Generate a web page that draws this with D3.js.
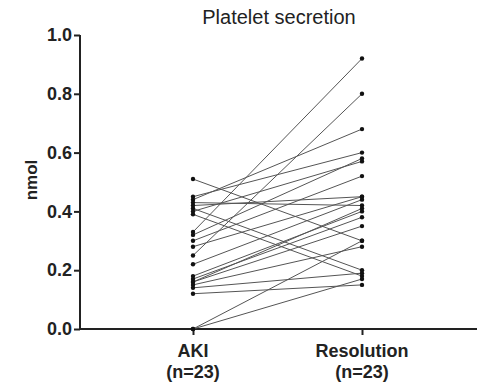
<!DOCTYPE html>
<html><head><meta charset="utf-8">
<script src="https://cdn.jsdelivr.net/npm/d3@7"></script>
<style>body{margin:0;background:#fff}svg{display:block}text{font-family:"Liberation Sans",Arial,sans-serif}</style>
</head><body>
<svg id="c" width="481" height="384"></svg>
<script>
const categories = ["AKI", "Resolution"];
const categorySub = ["(n=23)", "(n=23)"];
const akiValues = [0.51,0.45,0.44,0.43,0.41,0.40,0.39,0.33,0.32,0.30,0.28,0.25,0.22,0.18,0.17,0.16,0.16,0.15,0.14,0.12,0.0,0.0,0.42];
const resolutionValues = [0.30,0.60,0.68,0.42,0.20,0.57,0.18,0.92,0.58,0.52,0.45,0.80,0.44,0.40,0.38,0.35,0.41,0.28,0.19,0.15,0.30,0.17,0.45];
const yTicks = [0.0,0.2,0.4,0.6,0.8,1.0];
const title = "Platelet secretion";
const yLabel = "nmol";

const svg = d3.select("#c");
const y = d3.scaleLinear().domain([0,1]).range([329,35]);
const x = d3.scalePoint().domain(categories).range([193,362]);
const axisColor = "#222";

svg.append("text").attr("x",279).attr("y",24).attr("text-anchor","middle")
  .attr("font-size",20).attr("fill","#222").text(title);

// y axis
const ya = svg.append("g").attr("transform","translate(80,0)")
  .call(d3.axisLeft(y).tickValues(yTicks).tickFormat(d3.format(".1f")).tickSize(6).tickPadding(2));
ya.select(".domain").attr("stroke",axisColor).attr("stroke-width",2).attr("d","M0,"+y(1)+"V"+y(0));
ya.selectAll(".tick line").attr("stroke",axisColor).attr("stroke-width",2);
ya.selectAll(".tick text").attr("font-size",18).attr("font-weight","bold").attr("fill","#222")
  .attr("font-family","'Liberation Sans',Arial,sans-serif");

svg.append("text").attr("transform","translate(37,180) rotate(-90)").attr("text-anchor","middle")
  .attr("font-size",17).attr("font-weight","bold").attr("fill","#222").text(yLabel);

// x axis
const xa = svg.append("g").attr("transform","translate(0,"+y(0)+")")
  .call(d3.axisBottom(x).tickSize(6).tickFormat(""));
xa.select(".domain").attr("stroke",axisColor).attr("stroke-width",2).attr("d","M79,0H477");
xa.selectAll(".tick line").attr("stroke",axisColor).attr("stroke-width",2);
categories.forEach((c,i)=>{
  svg.append("text").attr("x",x(c)).attr("y",357).attr("text-anchor","middle")
    .attr("font-size",18).attr("font-weight","bold").attr("fill","#222").text(c);
  svg.append("text").attr("x",x(c)).attr("y",378).attr("text-anchor","middle")
    .attr("font-size",18).attr("font-weight","bold").attr("fill","#222").text(categorySub[i]);
});

const pairs = akiValues.map((a,i)=>({a, r: resolutionValues[i]}));
svg.append("g").selectAll("line").data(pairs).join("line")
  .attr("x1",x("AKI")).attr("y1",d=>y(d.a))
  .attr("x2",x("Resolution")).attr("y2",d=>y(d.r))
  .attr("stroke","#555").attr("stroke-width",1);
const pts = svg.append("g");
pts.selectAll("circle.a").data(pairs).join("circle").attr("class","a")
  .attr("cx",x("AKI")).attr("cy",d=>y(d.a)).attr("r",2.2).attr("fill","#111");
pts.selectAll("circle.r").data(pairs).join("circle").attr("class","r")
  .attr("cx",x("Resolution")).attr("cy",d=>y(d.r)).attr("r",2.2).attr("fill","#111");
</script>
</body></html>
